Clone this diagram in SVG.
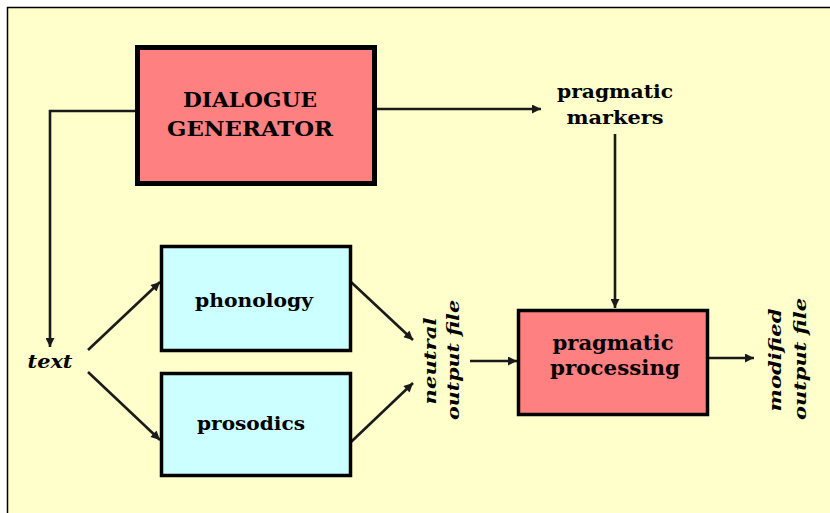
<svg xmlns="http://www.w3.org/2000/svg" width="830" height="513" viewBox="0 0 830 513">
<defs>
<style>
.bg{fill:#FFFFCC;stroke:#000;stroke-width:1.5}
.pink{fill:#FF8080;stroke:#000}
.cyan{fill:#CCFFFF;stroke:#000;stroke-width:3.5}
.lbl{font-family:"DejaVu Serif","Liberation Serif",serif;font-weight:bold;fill:#000;text-anchor:middle}
.ital{font-style:italic}
.conn{fill:none;stroke:#1a1a1a;stroke-width:2.6}
</style>
<marker id="ah" viewBox="0 0 10 10" refX="10" refY="5" markerWidth="10" markerHeight="9" markerUnits="userSpaceOnUse" orient="auto">
<path d="M0,0 L10,5 L0,10 Z" fill="#1a1a1a"/>
</marker>
</defs>
<rect x="0" y="0" width="830" height="513" fill="#fff"/>
<rect class="bg" x="7.5" y="7.5" width="840" height="520"/>

<g id="connectors">
<path class="conn" d="M136,111 H50 V347" marker-end="url(#ah)"/>
<path class="conn" d="M377,109 H541" marker-end="url(#ah)"/>
<path class="conn" d="M615,134 V308" marker-end="url(#ah)"/>
<path class="conn" d="M88,350 L160,282" marker-end="url(#ah)"/>
<path class="conn" d="M88,372 L160,440" marker-end="url(#ah)"/>
<path class="conn" d="M351,282 L413,340" marker-end="url(#ah)"/>
<path class="conn" d="M351,442 L413,383" marker-end="url(#ah)"/>
<path class="conn" d="M470,361 H517" marker-end="url(#ah)"/>
<path class="conn" d="M709,358 H754" marker-end="url(#ah)"/>
</g>

<g id="dialogue-generator">
<rect class="pink" x="137.5" y="47.5" width="237" height="136" stroke-width="5"/>
<text class="lbl" x="250" y="107" font-size="21" textLength="134" lengthAdjust="spacingAndGlyphs">DIALOGUE</text>
<text class="lbl" x="250" y="136" font-size="21" textLength="166" lengthAdjust="spacingAndGlyphs">GENERATOR</text>
</g>

<g id="phonology">
<rect class="cyan" x="161.5" y="246.5" width="189" height="104"/>
<text class="lbl" x="254" y="307" font-size="19" textLength="118" lengthAdjust="spacingAndGlyphs">phonology</text>
</g>

<g id="prosodics">
<rect class="cyan" x="161.5" y="373.5" width="189" height="102"/>
<text class="lbl" x="251" y="430" font-size="19" textLength="108" lengthAdjust="spacingAndGlyphs">prosodics</text>
</g>

<g id="pragmatic-processing">
<rect class="pink" x="518.5" y="310.5" width="189" height="104" stroke-width="3.5"/>
<text class="lbl" x="613" y="350" font-size="21" textLength="121" lengthAdjust="spacingAndGlyphs">pragmatic</text>
<text class="lbl" x="615" y="375" font-size="21" textLength="130" lengthAdjust="spacingAndGlyphs">processing</text>
</g>

<g id="text-label">
<text class="lbl ital" x="50" y="368" font-size="18" textLength="45" lengthAdjust="spacingAndGlyphs">text</text>
</g>

<g id="pragmatic-markers">
<text class="lbl" x="615" y="98" font-size="18" textLength="116" lengthAdjust="spacingAndGlyphs">pragmatic</text>
<text class="lbl" x="615" y="124" font-size="18" textLength="97" lengthAdjust="spacingAndGlyphs">markers</text>
</g>

<g id="neutral-output-file">
<text class="lbl ital" transform="translate(436,361) rotate(-90)" font-size="17" textLength="87" lengthAdjust="spacingAndGlyphs">neutral</text>
<text class="lbl ital" transform="translate(459,360) rotate(-90)" font-size="17" textLength="120" lengthAdjust="spacingAndGlyphs">output file</text>
</g>

<g id="modified-output-file">
<text class="lbl ital" transform="translate(781,360) rotate(-90)" font-size="17" textLength="103" lengthAdjust="spacingAndGlyphs">modified</text>
<text class="lbl ital" transform="translate(806,359) rotate(-90)" font-size="17" textLength="122" lengthAdjust="spacingAndGlyphs">output file</text>
</g>
</svg>
